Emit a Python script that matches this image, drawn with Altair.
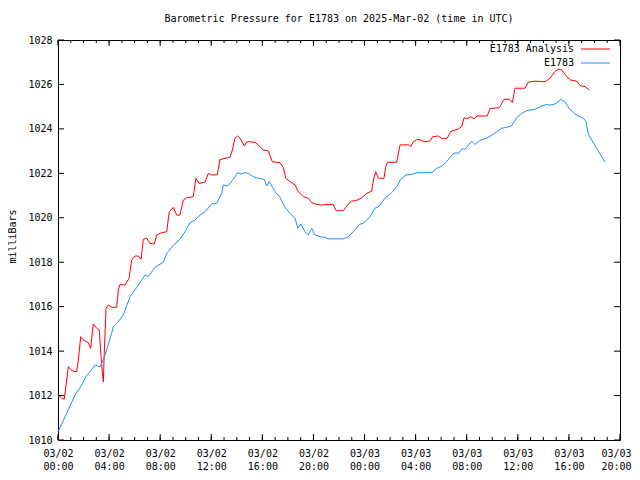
import altair as alt
import pandas as pd

# ---- data (hours after 2025-03-02 00:00 UTC, pressure in mb) ----
analysis_hours = [
    0.0, 0.29, 0.49, 0.68, 0.81, 1.07, 1.46, 1.59, 1.78, 1.98,
    2.37, 2.56, 2.76, 3.03, 3.23, 3.37, 3.47, 3.55, 3.62, 3.76,
    3.94, 4.25, 4.60, 4.72, 4.85, 5.25, 5.56, 5.77, 6.03, 6.29,
    6.50, 6.68, 6.94, 7.20, 7.54, 7.73, 8.12, 8.51, 8.71, 9.03,
    9.29, 9.55, 9.81, 10.08, 10.59, 10.80, 11.04, 11.51, 11.77, 12.03,
    12.47, 12.68, 13.07, 13.47, 13.65, 13.86, 14.07, 14.25, 14.59, 14.77,
    15.17, 15.48, 15.68, 16.07, 16.46, 16.78, 17.38, 17.64, 17.83, 18.16,
    18.56, 18.81, 19.20, 19.60, 19.86, 20.25, 20.65, 20.90, 21.55, 21.77,
    22.34, 22.73, 22.99, 23.33, 23.78, 24.17, 24.56, 24.69, 24.87, 25.08,
    25.52, 25.66, 25.78, 26.52, 26.78, 27.43, 27.61, 27.82, 28.13, 28.40,
    28.73, 29.12, 29.34, 29.77, 30.09, 30.48, 30.74, 31.08, 31.34, 31.61,
    31.79, 32.00, 32.31, 32.57, 32.83, 33.61, 33.82, 34.55, 34.92, 35.33,
    35.57, 35.78, 36.56, 36.82, 37.34, 38.13, 38.52, 38.91, 39.17, 39.44,
    39.83, 40.14, 40.61, 40.87, 41.26, 41.60,
]
analysis_mb = [
    1012.05, 1011.87, 1011.84, 1012.70, 1013.30, 1013.12, 1013.07, 1013.60, 1014.65, 1014.50,
    1014.38, 1014.12, 1015.22, 1015.03, 1014.95, 1013.75, 1013.07, 1012.62, 1013.90, 1015.92,
    1016.07, 1015.97, 1015.97, 1016.75, 1017.00, 1016.97, 1017.27, 1018.10, 1018.28, 1018.28,
    1018.13, 1019.03, 1019.08, 1018.85, 1018.82, 1019.23, 1019.33, 1019.37, 1020.27, 1020.47,
    1020.12, 1020.12, 1020.80, 1020.90, 1020.95, 1021.78, 1021.55, 1021.60, 1022.00, 1021.93,
    1021.93, 1022.62, 1022.67, 1022.72, 1023.05, 1023.58, 1023.68, 1023.58, 1023.23, 1023.42,
    1023.42, 1023.38, 1023.28, 1023.05, 1023.02, 1022.52, 1022.48, 1022.27, 1021.78, 1021.63,
    1021.48, 1021.18, 1020.95, 1020.88, 1020.68, 1020.60, 1020.57, 1020.60, 1020.60, 1020.32,
    1020.32, 1020.62, 1020.75, 1020.77, 1020.90, 1021.10, 1021.20, 1021.70, 1022.07, 1021.78,
    1021.78, 1022.30, 1022.50, 1022.50, 1023.28, 1023.28, 1023.20, 1023.42, 1023.53, 1023.50,
    1023.42, 1023.45, 1023.65, 1023.68, 1023.55, 1023.58, 1023.88, 1023.95, 1023.99, 1024.10,
    1024.50, 1024.45, 1024.55, 1024.45, 1024.58, 1024.58, 1024.92, 1024.95, 1025.33, 1025.33,
    1025.18, 1025.83, 1025.83, 1026.10, 1026.15, 1026.12, 1026.28, 1026.58, 1026.68, 1026.65,
    1026.35, 1026.20, 1026.15, 1025.95, 1025.90, 1025.75,
]

station_hours = [
    0.0, 0.68, 1.33, 1.72, 2.25, 2.51, 2.90, 3.29, 3.47, 3.68,
    4.20, 4.33, 4.72, 5.11, 5.38, 5.64, 6.29, 6.81, 7.07, 7.59,
    8.24, 8.51, 9.03, 9.55, 9.94, 10.33, 10.73, 11.12, 11.51, 12.03,
    12.42, 12.82, 12.94, 13.29, 13.72, 14.07, 14.33, 14.64, 14.90, 15.29,
    15.68, 16.15, 16.34, 16.54, 16.99, 17.38, 17.77, 18.16, 18.56, 18.77,
    19.02, 19.34, 19.60, 19.86, 20.12, 20.51, 20.90, 21.16, 22.34, 22.73,
    23.12, 23.59, 23.90, 24.43, 24.82, 25.15, 25.60, 26.13, 26.52, 26.83,
    27.25, 27.69, 28.13, 29.26, 29.65, 30.04, 30.43, 30.82, 31.08, 31.34,
    31.61, 31.86, 32.39, 32.65, 33.09, 33.56, 34.08, 34.74, 35.13, 35.52,
    35.91, 36.30, 36.70, 37.34, 37.87, 38.26, 38.52, 38.91, 39.38, 39.69,
    40.03, 40.40, 40.74, 41.13, 41.34, 41.52, 41.78, 42.17, 42.57, 42.83,
]
station_mb = [
    1010.37, 1011.20, 1012.02, 1012.34, 1012.92, 1013.07, 1013.37, 1013.30, 1013.52, 1013.82,
    1014.80, 1015.10, 1015.32, 1015.63, 1016.05, 1016.45, 1016.97, 1017.42, 1017.35, 1017.77,
    1018.00, 1018.40, 1018.77, 1019.03, 1019.37, 1019.78, 1019.90, 1020.12, 1020.27, 1020.62,
    1020.65, 1021.10, 1021.48, 1021.43, 1021.73, 1022.03, 1021.97, 1022.03, 1022.00, 1021.85,
    1021.78, 1021.73, 1021.43, 1021.63, 1021.18, 1020.92, 1020.47, 1020.20, 1019.98, 1019.53,
    1019.72, 1019.37, 1019.23, 1019.53, 1019.23, 1019.15, 1019.12, 1019.05, 1019.05, 1019.15,
    1019.37, 1019.70, 1019.75, 1020.05, 1020.43, 1020.53, 1020.88, 1021.13, 1021.40, 1021.73,
    1021.93, 1021.95, 1022.03, 1022.03, 1022.22, 1022.33, 1022.52, 1022.82, 1022.92, 1022.90,
    1023.10, 1023.08, 1023.45, 1023.30, 1023.50, 1023.58, 1023.76, 1024.03, 1024.07, 1024.14,
    1024.50, 1024.70, 1024.82, 1024.88, 1025.03, 1025.10, 1025.07, 1025.12, 1025.33, 1025.22,
    1024.92, 1024.70, 1024.58, 1024.48, 1024.33, 1023.77, 1023.50, 1023.12, 1022.75, 1022.50,
]

series_names = ["E1783 Analysis", "E1783"]
series_colors = ["#ff0000", "#1e8cff"]
y_ticks = [1010, 1012, 1014, 1016, 1018, 1020, 1022, 1024, 1026, 1028]
major_tick_hours = list(range(0, 45, 4))
minor_tick_hours = list(range(0, 45, 1))
title_text = "Barometric Pressure for E1783 on 2025-Mar-02 (time in UTC)"

t0 = pd.Timestamp("2025-03-02T00:00:00Z")


def iso(hours):
    return [(t0 + pd.Timedelta(hours=h)).strftime("%Y-%m-%dT%H:%M:%SZ") for h in hours]


df = pd.concat([
    pd.DataFrame({"time": iso(analysis_hours), "mb": analysis_mb, "series": series_names[0]}),
    pd.DataFrame({"time": iso(station_hours), "mb": station_mb, "series": series_names[1]}),
], ignore_index=True)

major_df = pd.DataFrame({"time": iso(major_tick_hours)})
minor_df = pd.DataFrame({"time": iso(minor_tick_hours)})
ytick_df = pd.DataFrame({"mb": y_ticks})
legend_df = pd.DataFrame({"series": series_names})

FONT = "DejaVu Sans Mono"
W, H = 562, 400

xscale = alt.Scale(type="utc", nice=False, domain=[iso([0])[0], iso([44])[0]])
yscale = alt.Scale(domain=[1010, 1028], nice=False, zero=False)
cscale = alt.Scale(domain=series_names, range=series_colors)
legend_row = alt.Scale(type="point", domain=series_names, range=[9, 23], padding=0)

lines = alt.Chart(df).mark_line(strokeWidth=1).encode(
    x=alt.X("time:T", scale=xscale,
            axis=alt.Axis(orient="bottom", ticks=False, domain=False, grid=False, title=None,
                          values=iso(major_tick_hours), labelPadding=8, labelFont=FONT,
                          labelFontSize=10, labelColor="black", labelLineHeight=13,
                          labelFlush=False, labelOverlap=False, labelBaseline="top",
                          labelOffset={"condition": {"test": "datum.index == 1", "value": -4},
                                       "value": 0},
                          labelExpr="[utcFormat(datum.value, '%m/%d'), utcFormat(datum.value, '%H:%M')]")),
    y=alt.Y("mb:Q", scale=yscale,
            axis=alt.Axis(orient="left", ticks=False, domain=False, grid=False, values=y_ticks,
                          format="d", labelPadding=6, labelFont=FONT, labelFontSize=10,
                          labelColor="black", title="milliBars", titleFont=FONT,
                          titleFontSize=10, titleFontWeight="normal", titleColor="black",
                          titleX=-46, titleY=196, titleAngle=270, titleAlign="center",
                          titleBaseline="middle")),
    color=alt.Color("series:N", scale=cscale, legend=None),
)


def xrule(data, y0, y1):
    return alt.Chart(data).mark_rule(color="black", strokeWidth=1).encode(
        x=alt.X("time:T", scale=xscale), y=alt.value(y0), y2=alt.value(y1))


def yrule(x0, x1):
    return alt.Chart(ytick_df).mark_rule(color="black", strokeWidth=1).encode(
        y=alt.Y("mb:Q", scale=yscale), x=alt.value(x0), x2=alt.value(x1))


plot = alt.layer(
    lines,
    xrule(major_df, H, H - 6), xrule(major_df, 0, 6),
    xrule(minor_df, H, H - 3), xrule(minor_df, 0, 3),
    yrule(0, 6), yrule(W, W - 6),
)

legend_text = alt.Chart(legend_df).mark_text(
    align="right", baseline="middle", font=FONT, fontSize=10, color="black"
).encode(
    x=alt.value(516),
    y=alt.Y("series:N", scale=legend_row, axis=None),
    text="series:N",
)
legend_lines = alt.Chart(legend_df).mark_rule(strokeWidth=1).encode(
    x=alt.value(523), x2=alt.value(552),
    y=alt.Y("series:N", scale=legend_row, axis=None),
    color=alt.Color("series:N", scale=cscale, legend=None),
)
legend_layer = alt.layer(legend_text, legend_lines)

chart = alt.layer(plot, legend_layer).resolve_scale(
    y="independent"
).properties(
    width=W, height=H,
    title=alt.Title(title_text, font=FONT, fontSize=10, fontWeight="normal",
                    color="black", offset=11, anchor="middle"),
    autosize=alt.AutoSizeParams(type="none"),
    padding={"left": 50, "top": 32, "right": 12, "bottom": 40},
    background="white",
).configure_view(
    stroke="black", strokeWidth=1
)

chart.save("out.html", embed_options={"renderer": "svg", "actions": False})
